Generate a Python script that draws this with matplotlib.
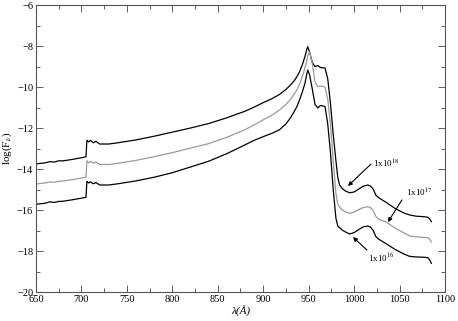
import matplotlib
matplotlib.use("Agg")
import matplotlib.pyplot as plt
from matplotlib.ticker import MultipleLocator

plt.rcParams['font.family'] = ['Liberation Serif', 'DejaVu Serif']
plt.rcParams['mathtext.fontset'] = 'stix'

# wavelength grid (Angstrom) shared by the three spectra
wave = [650, 660, 665, 670, 675, 680, 690, 700, 705, 706,
        708, 710, 713, 716, 720, 730, 740, 760, 780, 800,
        820, 840, 860, 880, 890, 900, 910, 918, 925, 930,
        934, 937, 940, 943, 946, 948, 949, 951, 954, 957,
        960, 963, 968, 971, 974, 977, 980, 982, 984, 987,
        990, 995, 1000, 1005, 1010, 1015, 1018, 1021, 1024, 1027,
        1035, 1045, 1055, 1061, 1068, 1075, 1081, 1083, 1085]

# log(F_nu) for density 1e18
flux_18 = [-13.75, -13.7, -13.64, -13.66, -13.6, -13.6, -13.53, -13.45, -13.4, -12.6,
           -12.68, -12.6, -12.72, -12.65, -12.78, -12.78, -12.72, -12.58, -12.4, -12.2,
           -12.0, -11.78, -11.5, -11.18, -10.98, -10.76, -10.56, -10.36, -10.12, -9.9,
           -9.7, -9.5, -9.25, -8.92, -8.5, -8.15, -8.03, -8.3, -8.8, -9.0,
           -8.95, -9.05, -9.07, -9.6, -10.8, -12.3, -13.6, -14.4, -14.78, -14.95,
           -15.06, -15.16, -15.12, -14.98, -14.84, -14.78, -14.83, -14.98, -15.28, -15.4,
           -15.62, -15.92, -16.15, -16.24, -16.3, -16.32, -16.35, -16.42, -16.57]

# log(F_nu) for density 1e17
flux_17 = [-14.73, -14.68, -14.63, -14.65, -14.6, -14.58, -14.52, -14.44, -14.4, -13.6,
           -13.7, -13.62, -13.72, -13.66, -13.78, -13.78, -13.72, -13.58, -13.4, -13.2,
           -12.98, -12.76, -12.45, -12.08, -11.85, -11.6, -11.36, -11.12, -10.85, -10.6,
           -10.35, -10.15, -9.85, -9.5, -9.05, -8.7, -8.45, -8.3, -8.85, -9.75,
           -9.98, -9.95, -10.0, -10.6, -11.8, -13.6, -15.2, -15.7, -15.86, -16.0,
           -16.08, -16.16, -16.1, -15.98, -15.88, -15.84, -15.88, -16.02, -16.32, -16.45,
           -16.58, -16.88, -17.12, -17.26, -17.31, -17.33, -17.35, -17.42, -17.55]

# log(F_nu) for density 1e16
flux_16 = [-15.72, -15.67, -15.6, -15.63, -15.58, -15.57, -15.5, -15.42, -15.38, -14.6,
           -14.68, -14.62, -14.72, -14.66, -14.78, -14.78, -14.72, -14.58, -14.4, -14.18,
           -13.9, -13.62, -13.25, -12.82, -12.6, -12.42, -12.25, -12.08, -11.8, -11.5,
           -11.2, -10.96, -10.62, -10.25, -9.8, -9.35, -9.17, -9.4, -10.1, -10.85,
           -11.02, -10.9, -10.95, -11.8, -13.2, -15.0, -16.4, -16.78, -16.86, -16.98,
           -17.06, -17.17, -17.1, -16.96, -16.82, -16.78, -16.83, -17.0, -17.3, -17.42,
           -17.64, -17.92, -18.15, -18.26, -18.29, -18.3, -18.32, -18.42, -18.6]

labels = [r'1x10$^{18}$', r'1x10$^{17}$', r'1x10$^{16}$']
label_xy = [(1020.7, -13.76), (1057, -15.17), (1015.2, -18.34)]
arrow_tail = [(1018.5, -13.76), (1052.6, -15.51), (1014.1, -17.95)]
arrow_tip = [(993.2, -14.83), (1037.2, -16.59), (998.7, -17.32)]

fig = plt.figure(figsize=(4.58, 3.21), dpi=100)
ax = fig.add_axes([0.0786, 0.0903, 0.893, 0.894])

ax.plot(wave, flux_18, color='black', lw=0.9)
ax.plot(wave, flux_17, color='#9a9a9a', lw=0.9)
ax.plot(wave, flux_16, color='black', lw=0.9)

for lab, xy, tail, tip in zip(labels, label_xy, arrow_tail, arrow_tip):
    ax.text(xy[0], xy[1], lab, fontsize=6.5, va='center', ha='left')
    ax.annotate('', xy=tip, xytext=tail,
                arrowprops=dict(arrowstyle='-|>', color='black', lw=0.8,
                                mutation_scale=6, shrinkA=0, shrinkB=0))

ax.set_xlim(650, 1100)
ax.set_ylim(-20, -6)
ax.xaxis.set_major_locator(MultipleLocator(50))
ax.xaxis.set_minor_locator(MultipleLocator(25))
ax.yaxis.set_major_locator(MultipleLocator(2))
ax.yaxis.set_minor_locator(MultipleLocator(1))
ax.tick_params(which='both', direction='in', top=True, right=True,
               labelsize=7.5, width=0.6, colors='#444444', labelcolor='black')
ax.tick_params(which='major', length=5, pad=2)
ax.tick_params(which='minor', length=3)
for s in ax.spines.values():
    s.set_linewidth(0.8)
    s.set_color('#555555')

ax.set_xlabel('λ(Å)', fontsize=8, style='italic', labelpad=1)
ax.set_ylabel(r'log(F$_{\nu}$)', fontsize=8, labelpad=2)

fig.savefig('out.png', dpi=100)
